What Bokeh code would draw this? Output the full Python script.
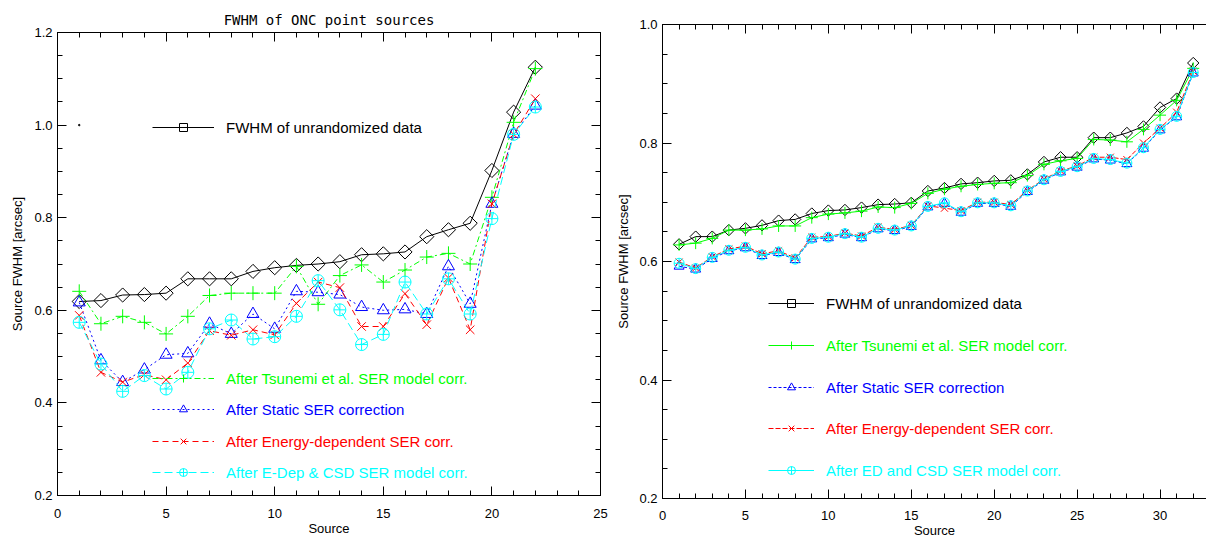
import math
from bokeh.plotting import figure
from bokeh.layouts import row
from bokeh.models import (LinearAxis, SingleIntervalTicker, FixedTicker, PrintfTickFormatter,
                          Legend, LegendItem, CustomLabelingPolicy)
from bokeh.embed import file_html
from bokeh.resources import INLINE

# ---------------- data: left panel (22 ONC sources) ----------------
src_left = list(range(1, 23))
unrand_left = [0.619, 0.621, 0.633, 0.634, 0.637, 0.668, 0.668, 0.668, 0.684, 0.692, 0.697,
               0.700, 0.705, 0.720, 0.722, 0.726, 0.759, 0.774, 0.788, 0.902, 1.028, 1.125]
tsunemi_left = [0.641, 0.571, 0.587, 0.574, 0.549, 0.587, 0.632, 0.637, 0.637, 0.637, 0.695,
                0.613, 0.675, 0.698, 0.661, 0.687, 0.715, 0.723, 0.700, 0.844, 1.006, 1.122]
static_left = [0.617, 0.492, 0.445, 0.472, 0.504, 0.507, 0.571, 0.549, 0.592, 0.560, 0.641,
               0.639, 0.634, 0.607, 0.600, 0.602, 0.592, 0.695, 0.614, 0.830, 0.981, 1.042]
edep_left = [0.589, 0.466, 0.445, 0.461, 0.450, 0.486, 0.556, 0.546, 0.558, 0.547, 0.615,
             0.661, 0.649, 0.565, 0.565, 0.636, 0.569, 0.670, 0.558, 0.830, 0.980, 1.057]
csd_left = [0.574, 0.484, 0.425, 0.459, 0.430, 0.466, 0.560, 0.579, 0.538, 0.543, 0.587,
            0.664, 0.601, 0.526, 0.548, 0.661, 0.592, 0.668, 0.592, 0.798, 0.980, 1.039]
stray_x = [1]
stray_y = [1.0]

# ---------------- data: right panel (32 sources) ----------------
src_right = list(range(1, 33))
unrand_right = [0.629, 0.642, 0.642, 0.653, 0.656, 0.661, 0.669, 0.671, 0.681, 0.686, 0.687,
                0.691, 0.696, 0.697, 0.699, 0.719, 0.724, 0.731, 0.733, 0.736, 0.737, 0.747,
                0.768, 0.776, 0.776, 0.809, 0.809, 0.817, 0.828, 0.860, 0.875, 0.935]
tsunemi_right = [0.628, 0.631, 0.639, 0.653, 0.653, 0.655, 0.660, 0.660, 0.674, 0.680, 0.682,
                 0.685, 0.692, 0.691, 0.698, 0.715, 0.722, 0.727, 0.730, 0.732, 0.733, 0.745,
                 0.764, 0.770, 0.774, 0.806, 0.805, 0.802, 0.823, 0.847, 0.872, 0.926]
static_right = [0.592, 0.587, 0.605, 0.618, 0.623, 0.610, 0.615, 0.603, 0.638, 0.640, 0.646,
                0.640, 0.655, 0.652, 0.659, 0.692, 0.698, 0.683, 0.698, 0.698, 0.693, 0.718,
                0.737, 0.751, 0.759, 0.773, 0.771, 0.765, 0.791, 0.822, 0.844, 0.918]
edep_right = [0.599, 0.589, 0.608, 0.621, 0.626, 0.613, 0.618, 0.606, 0.641, 0.642, 0.648,
              0.643, 0.658, 0.654, 0.661, 0.694, 0.690, 0.686, 0.700, 0.700, 0.696, 0.720,
              0.739, 0.753, 0.761, 0.776, 0.776, 0.772, 0.800, 0.825, 0.852, 0.921]
csd_right = [0.597, 0.588, 0.607, 0.619, 0.624, 0.611, 0.616, 0.604, 0.639, 0.641, 0.647,
             0.641, 0.656, 0.653, 0.660, 0.693, 0.699, 0.684, 0.699, 0.699, 0.694, 0.719,
             0.738, 0.752, 0.760, 0.774, 0.772, 0.766, 0.792, 0.823, 0.845, 0.919]

yticks_left = [0.2, 0.4, 0.6, 0.8, 1.0, 1.2]
yticks_right = [0.2, 0.4, 0.6, 0.8, 1.0]
yminor_left = [0.2 + 0.05 * k for k in range(21)]
yminor_right = [0.2 + 0.05 * k for k in range(17)]

labels_left = ["FWHM of unrandomized data", "After Tsunemi et al. SER model corr.",
               "After Static SER correction", "After Energy-dependent SER corr.",
               "After E-Dep & CSD SER model corr."]
labels_right = ["FWHM of unrandomized data", "After Tsunemi et al. SER model corr.",
                "After Static SER correction", "After Energy-dependent SER corr.",
                "After ED and CSD SER model corr."]
title_left = "FWHM of ONC point sources"
colors = ["black", "#00ff00", "#0000ff", "#ff0000", "#00ffff"]
markers = ["square", "cross", "triangle", "x", "circle_cross"]

FONT = "Liberation Sans"


def style_axis(ax, labels=True, major=9, minor=5):
    ax.major_tick_in = major
    ax.major_tick_out = 0
    ax.minor_tick_in = minor
    ax.minor_tick_out = 0
    ax.axis_line_color = "black"
    ax.major_tick_line_color = "black"
    ax.minor_tick_line_color = "black"
    if labels:
        ax.major_label_text_font = FONT
        ax.major_label_text_font_size = "13px"
        ax.major_label_text_color = "black"
        ax.axis_label_text_font = FONT
        ax.axis_label_text_font_size = "13px"
        ax.axis_label_text_font_style = "normal"
        ax.axis_label_text_color = "black"
    else:
        ax.major_label_policy = CustomLabelingPolicy(
            code="for (const i of indices) { if (i < 0) { yield i } }")
        ax.major_label_text_font_size = "1px"
        ax.major_label_standoff = 0


def make_panel(width, height, xr, yr, yt, ym, borders, right_axis, xstand, ylstand):
    p = figure(width=width, height=height, x_range=xr, y_range=yr,
               output_backend="svg", toolbar_location=None,
               min_border_left=borders[0], min_border_right=borders[1],
               min_border_top=borders[2], min_border_bottom=borders[3],
               x_axis_type=None, y_axis_type=None)
    p.frame_align = False
    p.grid.visible = False
    p.background_fill_color = "white"
    p.border_fill_color = "white"
    p.outline_line_color = "black" if right_axis else None

    xb = LinearAxis(ticker=SingleIntervalTicker(interval=5, num_minor_ticks=5),
                    formatter=PrintfTickFormatter(format="%d"), axis_label="Source")
    style_axis(xb)
    xb.major_label_standoff = xstand
    xb.axis_label_standoff = 0
    p.add_layout(xb, "below")
    xt = LinearAxis(ticker=SingleIntervalTicker(interval=5, num_minor_ticks=5))
    style_axis(xt, labels=False)
    p.add_layout(xt, "above")

    yl = LinearAxis(ticker=FixedTicker(ticks=yt, minor_ticks=ym),
                    formatter=PrintfTickFormatter(format="%.1f"),
                    axis_label="Source FWHM [arcsec]")
    style_axis(yl)
    yl.major_label_standoff = 5
    yl.axis_label_standoff = ylstand
    p.add_layout(yl, "left")
    if right_axis:
        yr_ax = LinearAxis(ticker=FixedTicker(ticks=yt, minor_ticks=ym))
        style_axis(yr_ax, labels=False)
        p.add_layout(yr_ax, "right")
    return p


def add_series(p, x, ys, dashes, msize, labels, legend_x, legend_ys, glyph_w, standoff):
    for i, y in enumerate(ys):
        lr = p.line(x, y, line_color=colors[i], line_width=1, line_dash=dashes[i])
        kw = dict(marker=markers[i], size=msize, line_color=colors[i], line_width=1)
        if markers[i] == "cross":
            kw["size"] = msize + 2
        if markers[i] == "square":
            kw["size"] = round(msize * 0.8)
            kw["angle"] = math.pi / 4
        sr = p.scatter(x, y, fill_color=None, **kw)
        leg = Legend(items=[LegendItem(label=labels[i], renderers=[lr, sr])],
                     location=(legend_x, legend_ys[i]), glyph_width=glyph_w,
                     glyph_height=20, label_height=20, label_standoff=standoff,
                     padding=0, margin=0, border_line_color=None,
                     background_fill_alpha=0, label_text_color=colors[i],
                     label_text_font=FONT, label_text_font_size="15px",
                     label_text_baseline="middle")
        p.add_layout(leg)


# ---------------- left panel ----------------
pl = make_panel(612, 540, (0, 25), (0.2, 1.2), yticks_left, yminor_left,
                (57, 12, 32, 45), True, 13, 6)
pl.title.text = title_left
pl.title.align = "center"
pl.title.text_font = "DejaVu Sans Mono"
pl.title.text_font_size = "14px"
pl.title.text_font_style = "normal"
pl.title.text_color = "black"
pl.title.standoff = 2
add_series(pl, src_left,
           [unrand_left, tsunemi_left, static_left, edep_left, csd_left],
           ["solid", "6 3 2 3", "2 3", "6 4", "8 4"], 12, labels_left,
           95, [358, 107, 76, 44, 13], 62, 12)
pl.scatter(stray_x, stray_y, marker="circle", size=1.5, color="black")

# ---------------- right panel ----------------
pr = make_panel(594, 540, (0, 32.8), (0.2, 1.0), yticks_right, yminor_right,
                (50, 0, 24, 42), False, 12, 5)
add_series(pr, src_right,
           [unrand_right, tsunemi_right, static_right, edep_right, csd_right],
           ["solid", "solid", "3 2", "5 2", "solid"], 10, labels_right,
           106, [185, 143, 101, 60, 18], 46, 12)

layout = row(pl, pr)
open("out.html", "w").write(file_html(layout, INLINE))
